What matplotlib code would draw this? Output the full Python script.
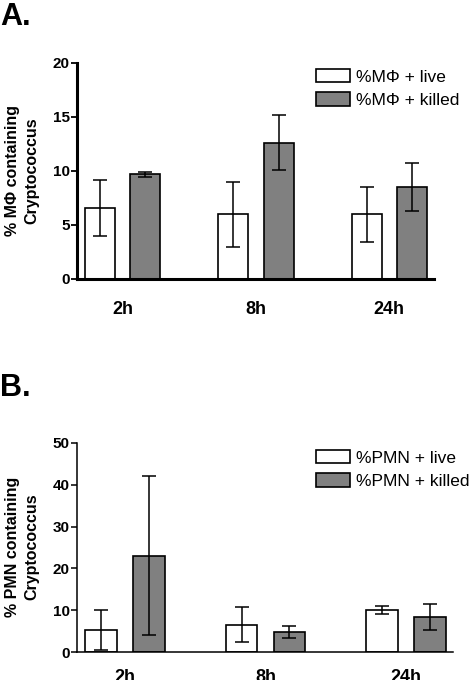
import matplotlib
matplotlib.use("Agg")
import matplotlib.pyplot as plt
import numpy as np

plt.rcParams['font.family'] = ['Liberation Sans', 'DejaVu Sans']

# data
times = ["2h", "8h", "24h"]

mac_live = [6.6, 6.0, 6.0]
mac_live_err = [2.6, 3.0, 2.55]
mac_killed = [9.7, 12.6, 8.5]
mac_killed_err = [0.25, 2.55, 2.2]

pmn_live = [5.3, 6.5, 10.1]
pmn_live_err = [4.8, 4.2, 1.0]
pmn_killed = [23.0, 4.8, 8.4]
pmn_killed_err = [19.0, 1.4, 3.2]

W = 475
H = 680
fig = plt.figure(figsize=(W / 100, H / 100), dpi=100)


def px_axes(left, right, top, bottom):
    return fig.add_axes([left / W, 1 - bottom / H, (right - left) / W, (bottom - top) / H])


def panel(ax, live, live_err, killed, killed_err, ymax, step, labels, spine_w, ylabel, lab_y, legend_top, xpad):
    x = np.arange(len(times))
    width = 0.225
    off = 0.17
    ekw = dict(elinewidth=1.1, capthick=1.1)
    ax.bar(x - off, live, width, color="white", edgecolor="black", linewidth=1.2,
           yerr=live_err, capsize=5.2, error_kw=ekw, label=labels[0], zorder=2)
    ax.bar(x + off, killed, width, color="#808080", edgecolor="black", linewidth=1.2,
           yerr=killed_err, capsize=5.2, error_kw=ekw, label=labels[1], zorder=2)
    ax.set_xlim(-0.342, x[-1] + 0.335)
    ax.set_ylim(0, ymax)
    ax.set_yticks(np.arange(0, ymax + 1, step))
    ax.set_xticks(x)
    ax.set_xticklabels(times, fontsize=13, fontweight="bold")
    for t in ax.get_yticklabels():
        t.set_fontweight("bold")
        t.set_fontsize(11)
    ax.tick_params(axis="x", length=0, pad=xpad)
    ax.tick_params(axis="y", direction="out", length=4.3, width=min(spine_w, 1.3), pad=1)
    for s in ["top", "right"]:
        ax.spines[s].set_visible(False)
    for s in ["left", "bottom"]:
        ax.spines[s].set_linewidth(spine_w)
    ax.set_ylabel(ylabel, fontsize=11.5, fontweight="bold", linespacing=1.35)
    ax.yaxis.set_label_coords(39 / W, 1 - lab_y / H, transform=fig.transFigure)
    ax.legend(loc="upper left", bbox_to_anchor=(316 / W, 1 - legend_top / H),
              bbox_transform=fig.transFigure, frameon=False, fontsize=12.5,
              borderpad=0, borderaxespad=0, handlelength=1.95, handleheight=0.8,
              handletextpad=0.35, labelspacing=0.45)


axA = px_axes(77, 434, 63, 279)
panel(axA, mac_live, mac_live_err, mac_killed, mac_killed_err, 20, 5,
      ["%MΦ + live", "%MΦ + killed"], 2.2,
      "% MΦ containing\nCryptococcus", 171, 69, 16)

axB = px_axes(77, 453, 443, 652)
panel(axB, pmn_live, pmn_live_err, pmn_killed, pmn_killed_err, 50, 10,
      ["%PMN + live", "%PMN + killed"], 1.1,
      "% PMN containing\nCryptococcus", 547, 450, 12)

fig.text(0, 1 - 2 / H, "A.", fontsize=22, fontweight="bold", ha="left", va="top")
fig.text(0, 1 - 373 / H, "B.", fontsize=22, fontweight="bold", ha="left", va="top")

fig.savefig("out.png", dpi=100)
